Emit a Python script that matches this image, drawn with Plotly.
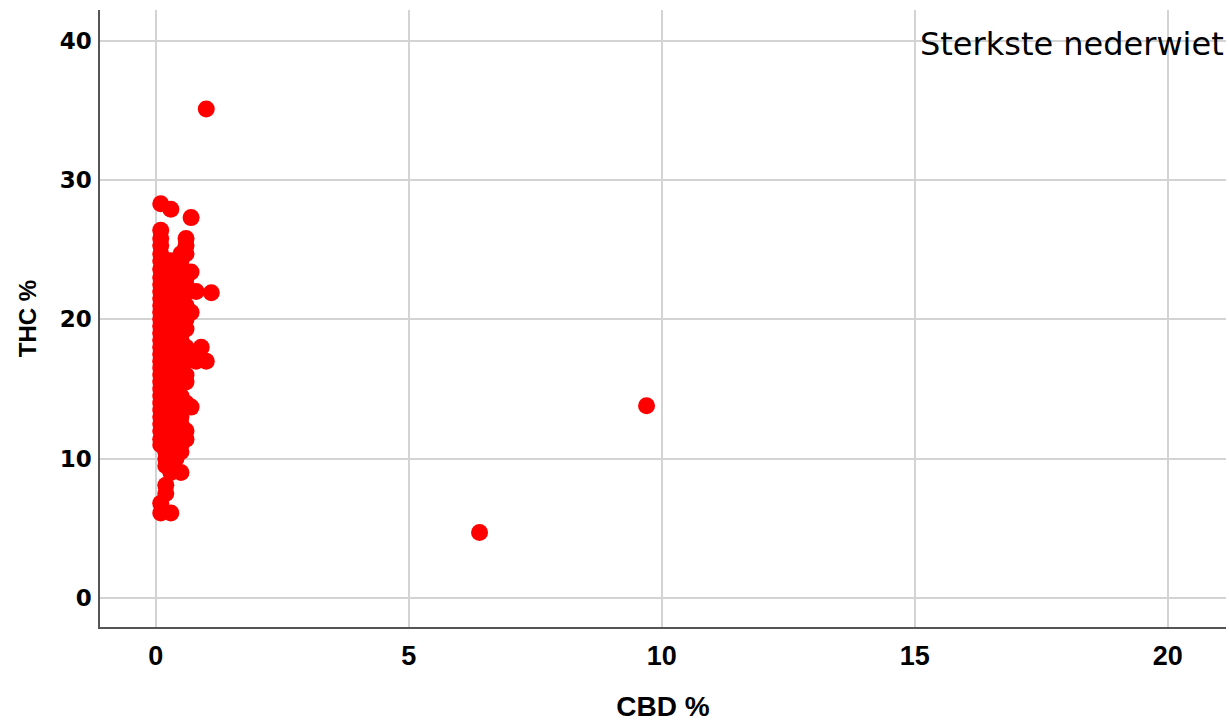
import plotly.graph_objects as go

# Main cluster rows: THC % values and matching CBD % values
cluster_thc = [26.4, 25.8, 25.8, 25.3, 25.3, 24.7, 24.7, 24.7, 24.2, 24.2, 24.2, 24.2,
               23.6, 23.6, 23.6, 23.4, 23.0, 23.0, 23.0, 23.0, 22.5, 22.5, 22.5, 22.5,
               22.0, 22.0, 22.0, 22.0, 21.9, 21.9, 21.5, 21.5, 21.5, 21.0, 21.0, 21.0, 21.0,
               20.5, 20.5, 20.5, 20.5, 20.0, 20.0, 20.0, 20.0, 19.5, 19.5, 19.5, 19.3,
               19.0, 19.0, 19.0, 19.0, 18.5, 18.5, 18.5, 18.0, 18.0, 18.0, 18.0, 18.0,
               17.5, 17.5, 17.5, 17.5, 17.0, 17.0, 17.0, 17.0, 17.0, 17.0,
               16.5, 16.5, 16.5, 16.0, 16.0, 16.0, 16.0, 15.5, 15.5, 15.5, 15.5,
               15.0, 15.0, 15.0, 14.5, 14.5, 14.5, 14.0, 14.0, 14.0, 14.0, 13.7,
               13.5, 13.5, 13.5, 13.0, 13.0, 13.0, 13.0, 12.5, 12.5, 12.5,
               12.0, 12.0, 12.0, 12.0, 11.4, 11.4, 11.4, 11.0, 11.0, 11.0, 11.0,
               10.5, 10.5, 10.5, 10.0, 10.0, 9.5, 9.5, 9.0, 9.0, 8.1, 7.5, 6.8, 6.1, 6.1,
               28.3, 27.9, 27.3, 35.1, 4.7, 13.8]
cluster_cbd = [0.1, 0.1, 0.6, 0.1, 0.6, 0.1, 0.5, 0.6, 0.1, 0.2, 0.3, 0.5,
               0.1, 0.3, 0.5, 0.7, 0.1, 0.2, 0.4, 0.6, 0.1, 0.3, 0.5, 0.6,
               0.1, 0.2, 0.4, 0.8, 0.6, 1.1, 0.1, 0.3, 0.5, 0.1, 0.2, 0.4, 0.6,
               0.1, 0.3, 0.5, 0.7, 0.1, 0.2, 0.4, 0.6, 0.1, 0.3, 0.5, 0.6,
               0.1, 0.2, 0.4, 0.5, 0.1, 0.3, 0.5, 0.1, 0.2, 0.4, 0.6, 0.9,
               0.1, 0.3, 0.5, 0.7, 0.1, 0.2, 0.4, 0.6, 0.8, 1.0,
               0.1, 0.3, 0.5, 0.1, 0.2, 0.4, 0.6, 0.1, 0.3, 0.5, 0.6,
               0.1, 0.2, 0.4, 0.1, 0.3, 0.5, 0.1, 0.2, 0.4, 0.6, 0.7,
               0.1, 0.3, 0.5, 0.1, 0.2, 0.4, 0.5, 0.1, 0.3, 0.5,
               0.1, 0.2, 0.4, 0.6, 0.1, 0.3, 0.6, 0.1, 0.2, 0.4, 0.5,
               0.2, 0.3, 0.5, 0.2, 0.4, 0.2, 0.3, 0.3, 0.5, 0.2, 0.2, 0.1, 0.1, 0.3,
               0.1, 0.3, 0.7, 1.0, 6.4, 9.7]

x_ticks = [0, 5, 10, 15, 20]
y_ticks = [0, 10, 20, 30, 40]
title_text = "Sterkste nederwiet"

fig = go.Figure()
fig.add_trace(go.Scatter(
    x=cluster_cbd, y=cluster_thc, mode="markers",
    marker=dict(color="#ff0000", size=17, line=dict(width=0)),
    showlegend=False, hoverinfo="x+y"))

axis_common = dict(showgrid=True, gridcolor="#d3d3d3", gridwidth=1.5,
                   zeroline=False, showline=True, linecolor="#555555", linewidth=1.5,
                   ticks="", mirror=False)
fig.update_xaxes(range=[-1.1, 21.15], tickvals=x_ticks, ticktext=[str(v) for v in x_ticks],
                 tickfont=dict(family="Liberation Sans", size=27, color="black", weight="bold"),
                 title=dict(text="<b>CBD %</b>", font=dict(family="Liberation Sans", size=28, color="black"), standoff=28),
                 ticklabelstandoff=4, **axis_common)
fig.update_yaxes(range=[-2.08, 42.2], tickvals=y_ticks, ticktext=[str(v) for v in y_ticks],
                 tickfont=dict(family="DejaVu Sans", size=23, color="black", weight="bold"),
                 title=dict(text="<b>THC %</b>", font=dict(family="Liberation Sans", size=24, color="black"), standoff=16),
                 ticklabelstandoff=2, **axis_common)

fig.add_annotation(text=title_text, xref="paper", yref="paper", x=1.0, y=0.945,
                   xanchor="right", yanchor="middle", showarrow=False,
                   font=dict(family="DejaVu Sans", size=32, color="black"))

fig.update_layout(width=1229, height=722, plot_bgcolor="white", paper_bgcolor="white",
                  margin=dict(l=100, r=3, t=10, b=86))
fig.write_html("out.html", post_script="document.body.style.margin='0';",
               config={"displayModeBar": False})
